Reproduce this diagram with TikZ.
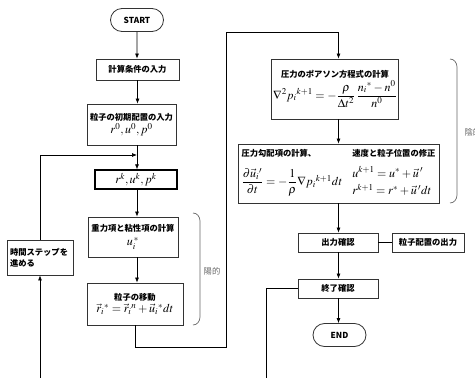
\documentclass[tikz,border=0pt]{standalone}
\usepackage{amsmath}
\usepackage{mathptmx}
\usepackage{fontspec}
\setmainfont{Liberation Serif}
\newfontfamily\jp{Noto Sans CJK JP}
\usetikzlibrary{arrows.meta,shapes.misc}

\newcommand{\mth}[1]{{\fontsize{12}{13}\selectfont$#1$}}

\begin{document}
\begin{tikzpicture}[x=1pt,y=-1pt,
		box/.style={draw=black!80, line width=0.8pt, fill=white, align=center,
			inner sep=1pt, font=\jp\bfseries\fontsize{8.3}{11}\selectfont},
		term/.style={box, rounded rectangle, minimum width=55pt, minimum height=23pt},
		arr/.style={-{Latex[length=5pt,width=4pt]}, line width=0.7pt},
		ln/.style={line width=0.7pt},
		brace/.style={draw=black!60, line width=0.7pt},
		note/.style={text=black!60, font=\jp\fontsize{8.3}{10}\selectfont}]
		\useasboundingbox (0,0) rectangle (475,378);

		% left column
		\node[term] (start) at (137,20) {START};
		\node[box, minimum width=83pt, minimum height=21pt] (cond) at (137.5,69.5) {計算条件の入力};
		\node[box, minimum width=89pt, minimum height=41pt] (init) at (131.5,124.5)
			{粒子の初期配置の入力\\[1pt]\mth{r^0,u^0,p^0}};
		\node[box, draw=black, line width=1.3pt, minimum width=82pt, minimum height=19pt] (rk) at (136,179.5)
			{\mth{r^k,u^k,p^k}};
		\node[box, minimum width=90pt, minimum height=40pt] (grav) at (133,237)
			{重力項と粘性項の計算\\[3pt]\mth{u_i^{\,*}}};
		\node[box, minimum width=96pt, minimum height=42pt] (move) at (135,304)
			{粒子の移動\\[1pt]\mth{\vec{r}_i{}^{*}=\vec{r}_i{}^{n}+\vec{u}_i{}^{*}dt}};
		\node[box, align=left, minimum width=66pt, minimum height=35pt, text width=60pt] (tstep) at (40,257.5)
			{時間ステップを\\進める};

		% right column
		\node[box, minimum width=127pt, minimum height=60pt] (pois) at (335,89)
			{圧力のポアソン方程式の計算\\[1pt]
			\mth{\nabla^2 p_i{}^{k+1}=-\dfrac{\rho}{\Delta t^2}\,\dfrac{n_i{}^{*}-n^0}{n^0}}};
		\node[box, minimum width=201pt, minimum height=59pt] (corr) at (338.5,173.5)
			{\begin{tabular}{@{}l@{\hspace{10pt}}l@{}}
				圧力勾配項の計算、 & 速度と粒子位置の修正\\[7pt]
				\mth{\dfrac{\partial\vec{u}_i{}'}{\partial t}=-\dfrac{1}{\rho}\nabla p_i{}^{k+1}dt} &
				\mth{\begin{array}{@{}l@{}} u^{k+1}=u^{*}+\vec{u}\,'\\[3pt] r^{k+1}=r^{*}+\vec{u}\,'dt\end{array}}
			\end{tabular}};
		\node[box, minimum width=80pt, minimum height=19pt] (outchk) at (338,242.5) {出力確認};
		\node[box, minimum width=72pt, minimum height=19pt] (outpos) at (428,242.5) {粒子配置の出力};
		\node[box, minimum width=80pt, minimum height=19pt] (endchk) at (338,288.5) {終了確認};
		\node[term] (end) at (339.5,335) {END};

		% brackets
		\draw[brace] (193,213) to[out=0,in=90] (200,221) -- (200,317) to[out=-90,in=0] (193,325);
		\node[note] (expl) at (212,271) {陽的};
		\draw[brace] (450,59) to[out=0,in=90] (457,67) -- (457,195) to[out=-90,in=0] (450,203);
		\node[note, anchor=west] (impl) at (461,132) {陰的};

		\coordinate (merge) at (137,155);
		\coordinate (loopin) at (40,378);
		\coordinate (c1) at (226,347);
		\coordinate (c2) at (226,32);
		\coordinate (loopout) at (266,378);

		% connectors
		\draw[arr] (start) -- (start |- cond.north);
		\draw[arr] (cond) -- (cond |- init.north);
		\draw[ln] (merge |- init.south) -- (merge);
		\draw[arr] (merge) -- (merge |- rk.north);
		\draw[arr] (tstep.north) |- (merge);
		\draw[arr] (loopin) -- (tstep.south);
		\draw[arr] (merge |- rk.south) -- (merge |- grav.north);
		\draw[arr] (merge |- grav.south) -- (merge |- move.north);
		\draw[ln] (move.south) |- (c1) -- (c2);
		\draw[arr] (c2) -| (corr.center |- pois.north);
		\draw[arr] (corr.center |- pois.south) -- (corr.north);
		\draw[arr] (corr.south) -- (corr.center |- outchk.north);
		\draw[ln] (outchk) -- (outpos);
		\draw[arr] (corr.center |- outchk.south) -- (corr.center |- endchk.north);
		\draw[arr] (corr.center |- endchk.south) -- (corr.center |- end.north);
		\draw[ln] (endchk.west) -| (loopout);
	\end{tikzpicture}
\end{document}
